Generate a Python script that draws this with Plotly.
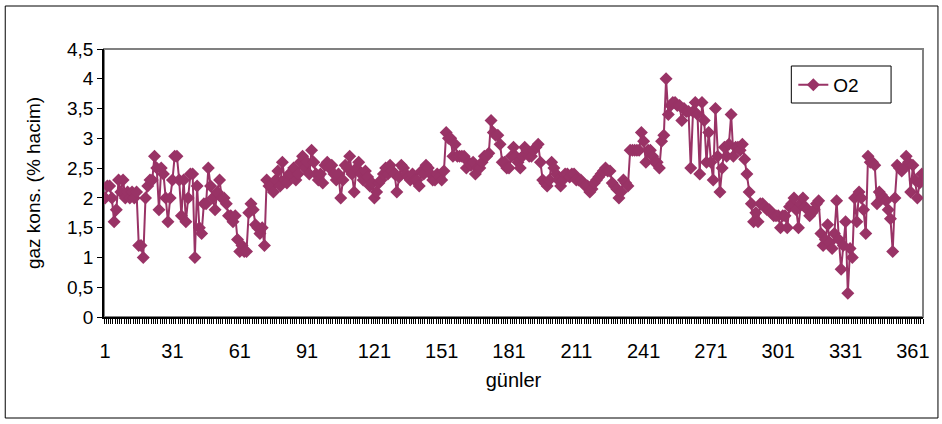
import plotly.graph_objects as go

# ---- data ----
days = list(range(1, 366))
o2 = [
    2.0, 2.2, 2.2, 2.0, 1.6, 1.8, 2.3, 2.1, 2.3, 2.0,
    2.1, 2.0, 2.1, 2.0, 2.1, 1.2, 1.2, 1.0, 2.0, 2.2,
    2.3, 2.3, 2.7, 2.5, 1.8, 2.5, 2.4, 2.0, 1.6, 2.0,
    2.3, 2.7, 2.7, 2.3, 1.7, 2.3, 1.6, 2.0, 2.4, 2.4,
    1.0, 2.2, 1.5, 1.4, 1.9, 1.9, 2.5, 2.2, 2.0, 1.8,
    2.1, 2.3, 2.0, 2.0, 1.9, 1.7, 1.7, 1.6, 1.7, 1.3,
    1.1, 1.2, 1.1, 1.1, 1.75, 1.9, 1.8, 1.55, 1.5, 1.4,
    1.5, 1.2, 2.3, 2.2, 2.2, 2.1, 2.3, 2.45, 2.2, 2.6,
    2.3, 2.25, 2.4, 2.4, 2.5, 2.3, 2.4, 2.6, 2.7, 2.5,
    2.6, 2.4, 2.8, 2.6, 2.4, 2.3, 2.4, 2.25, 2.55, 2.6,
    2.5, 2.55, 2.4, 2.3, 2.4, 2.0, 2.3, 2.55, 2.5, 2.7,
    2.4, 2.1, 2.5, 2.6, 2.4, 2.3, 2.45, 2.35, 2.2, 2.25,
    2.0, 2.1, 2.25, 2.3, 2.4, 2.5, 2.4, 2.55, 2.45, 2.4,
    2.1, 2.35, 2.55, 2.5, 2.4, 2.35, 2.3, 2.4, 2.3, 2.3,
    2.2, 2.45, 2.4, 2.55, 2.5, 2.4, 2.3, 2.3, 2.4, 2.35,
    2.3, 2.45, 3.1, 3.0, 3.0, 2.7, 2.9, 2.7, 2.7, 2.7,
    2.7, 2.5, 2.6, 2.55, 2.6, 2.4, 2.5, 2.5, 2.6, 2.7,
    2.7, 2.75, 3.3, 3.1, 3.05, 3.05, 2.9, 2.6, 2.6, 2.5,
    2.5, 2.7, 2.85, 2.7, 2.6, 2.5, 2.7, 2.85, 2.8, 2.7,
    2.7, 2.8, 2.85, 2.9, 2.6, 2.3, 2.25, 2.2, 2.3, 2.6,
    2.5, 2.4, 2.3, 2.2, 2.3, 2.4, 2.4, 2.35, 2.4, 2.4,
    2.3, 2.3, 2.3, 2.25, 2.2, 2.2, 2.1, 2.15, 2.25, 2.3,
    2.35, 2.4, 2.45, 2.5, 2.45, 2.45, 2.25, 2.2, 2.15, 2.0,
    2.1, 2.3, 2.25, 2.2, 2.8, 2.8, 2.8, 2.8, 2.8, 3.1,
    2.95, 2.6, 2.8, 2.8, 2.7, 2.6, 2.6, 2.5, 2.95, 3.05,
    4.0, 3.4, 3.55, 3.6, 3.6, 3.55, 3.55, 3.3, 3.5, 3.45,
    3.45, 2.5, 3.45, 3.6, 3.4, 2.4, 3.6, 3.3, 2.6, 3.1,
    2.6, 2.3, 3.5, 2.7, 2.1, 2.5, 2.85, 2.7, 2.9, 3.4,
    2.7, 2.85, 2.85, 2.8, 2.9, 2.65, 2.4, 2.1, 1.9, 1.6,
    1.75, 1.6, 1.9, 1.9, 1.85, 1.8, 1.8, 1.75, 1.7, 1.7,
    1.7, 1.5, 1.7, 1.7, 1.5, 1.85, 1.9, 2.0, 1.8, 1.5,
    1.9, 2.0, 1.85, 1.8, 1.7, 1.75, 1.8, 1.9, 1.95, 1.4,
    1.2, 1.3, 1.55, 1.25, 1.15, 1.4, 1.95, 1.3, 0.8, 1.2,
    1.6, 0.4, 1.15, 1.0, 2.0, 1.6, 2.1, 2.0, 1.8, 1.4,
    2.7, 2.6, 2.6, 2.55, 1.9, 2.1, 2.05, 2.0, 1.95, 1.8,
    1.65, 1.1, 2.0, 2.55, 2.5, 2.45, 2.5, 2.7, 2.6, 2.1,
    2.55, 2.3, 2.0, 2.25, 2.4,
]
x_tick_vals = list(range(1, 366, 30))
x_tick_text = [str(v) for v in x_tick_vals]
y_tick_vals = [0, 0.5, 1, 1.5, 2, 2.5, 3, 3.5, 4, 4.5]
y_tick_text = ["0", "0,5", "1", "1,5", "2", "2,5", "3", "3,5", "4", "4,5"]
series_name = "O2"
x_title = "günler"
y_title = "gaz kons. (% hacim)"

# ---- layout geometry (pixels) ----
W, H = 942, 424
L, R, T, B = 104, 925, 49, 317
pw, ph = R - L, B - T

def px_x(x):
    return (x - L) / pw

def px_y(y):
    return (B - y) / ph

FONT = "Liberation Sans, Arial, sans-serif"
COLOR = "#993366"

fig = go.Figure()
fig.add_trace(go.Scatter(
    x=days, y=o2, mode="lines+markers", name=series_name,
    line=dict(color=COLOR, width=2),
    marker=dict(symbol="diamond", size=10, color=COLOR),
))

fig.update_layout(
    width=W, height=H,
    margin=dict(l=L, r=W - R, t=T, b=H - B),
    paper_bgcolor="white", plot_bgcolor="white",
    font=dict(family=FONT, size=19, color="black"),
    showlegend=True,
    legend=dict(
        x=px_x(795), y=px_y(85), xanchor="left", yanchor="middle",
        borderwidth=0, bgcolor="rgba(0,0,0,0)",
        font=dict(size=19),
    ),
    xaxis=dict(
        range=[0.5, 365.5], showgrid=False, zeroline=False,
        tickmode="array", tickvals=x_tick_vals, ticktext=x_tick_text,
        ticks="", ticklabelstandoff=15, tickfont=dict(size=20),
        showline=True, linecolor="black", linewidth=1.5,
        minor=dict(tickmode="linear", tick0=0.5, dtick=1, ticks="outside",
                   ticklen=5, tickcolor="black", tickwidth=1),
        title=dict(text=x_title, standoff=12, font=dict(size=20)),
    ),
    yaxis=dict(
        range=[0, 4.5], showgrid=False, zeroline=False,
        tickmode="array", tickvals=y_tick_vals, ticktext=y_tick_text,
        ticks="outside", ticklen=5, tickcolor="black", tickfont=dict(size=19),
        showline=True, linecolor="black", linewidth=1.5,
        title=dict(text=y_title, standoff=21, font=dict(size=19)),
    ),
    shapes=[
        dict(type="rect", xref="paper", yref="paper", x0=0, x1=1, y0=0, y1=1,
             line=dict(color="#808080", width=2), layer="below"),
        dict(type="rect", xref="paper", yref="paper",
             x0=px_x(5), x1=px_x(940), y0=px_y(418), y1=px_y(6),
             line=dict(color="black", width=1), layer="below"),
        dict(type="rect", xref="paper", yref="paper",
             x0=px_x(793), x1=px_x(893), y0=px_y(103), y1=px_y(66),
             line=dict(color="black", width=1), fillcolor="white", layer="below"),
    ],
)

fig.write_html("out.html")
